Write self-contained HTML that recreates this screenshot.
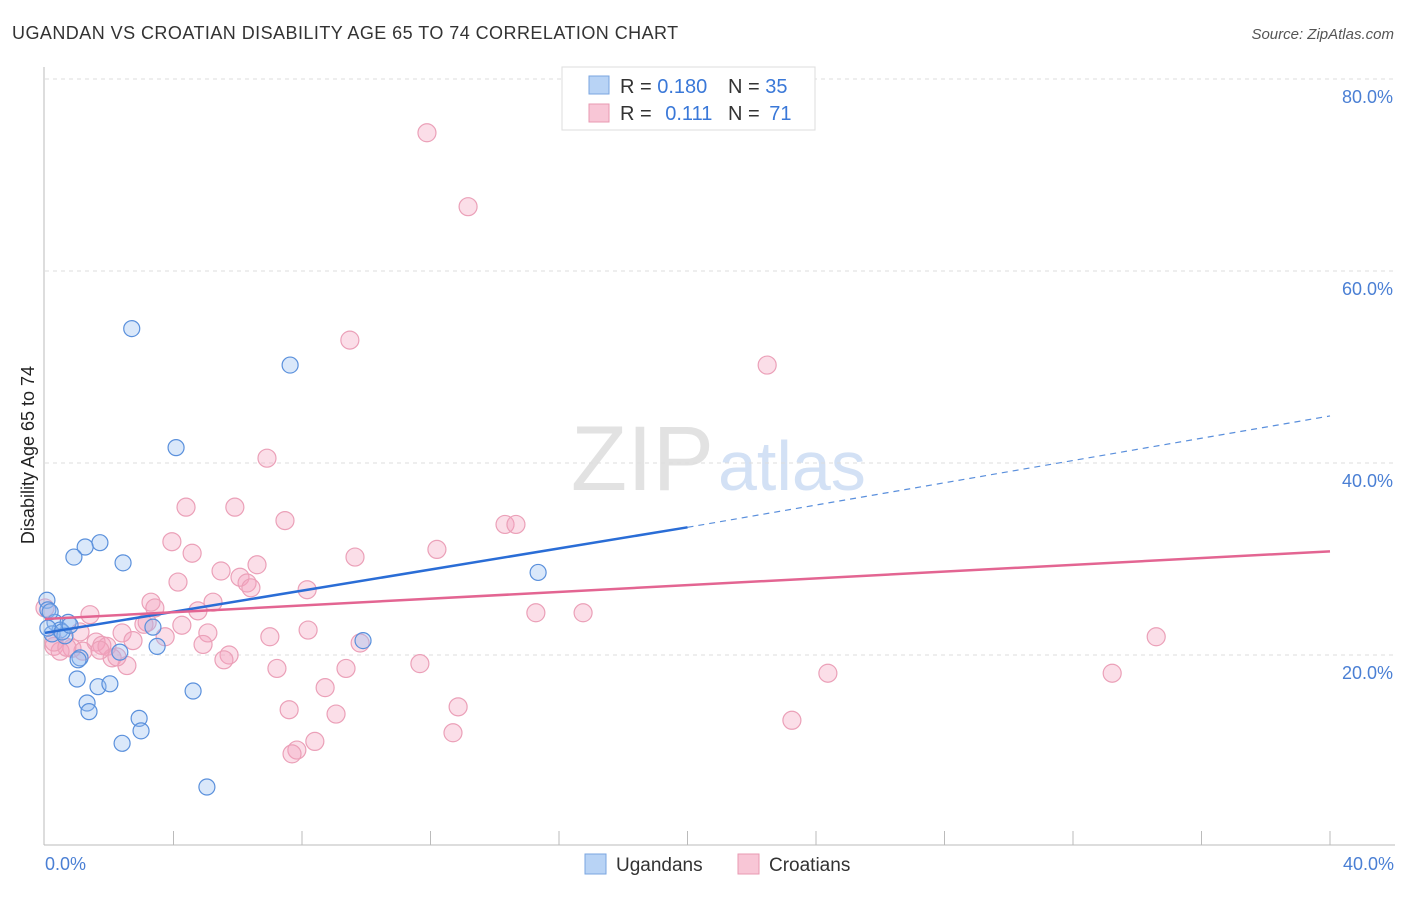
<!DOCTYPE html>
<html><head><meta charset="utf-8"><style>
body{margin:0;background:#fff;font-family:"Liberation Sans",sans-serif;}
svg text{font-family:"Liberation Sans",sans-serif;}
</style></head><body>
<svg id="chart" width="1406" height="892">
<text x="12" y="39" font-size="18" fill="#333" letter-spacing="0.45">UGANDAN VS CROATIAN DISABILITY AGE 65 TO 74 CORRELATION CHART</text>
<text x="1394" y="39" font-size="15" fill="#555" font-style="italic" text-anchor="end">Source: ZipAtlas.com</text>
<text x="714" y="490" font-size="92" fill="#e2e2e2" text-anchor="end" font-family="Liberation Serif">ZIP</text>
<text x="718" y="490" font-size="70" fill="#d3e1f5">atlas</text>
<text transform="translate(34,455) rotate(-90)" font-size="18" fill="#222" text-anchor="middle">Disability Age 65 to 74</text>
<g id="grid"></g><g id="axes"></g><g id="marks"></g>
<g>
<rect x="562" y="67" width="253" height="63" fill="#fff" stroke="#ddd"/>
<rect x="589" y="76" width="20" height="18" fill="#b8d3f5" stroke="#7aa6e0"/>
<rect x="589" y="104" width="20" height="18" fill="#f8c6d6" stroke="#e899b2"/>
<text x="620" y="93" font-size="20" fill="#333">R = <tspan fill="#3a78d8">0.180</tspan></text>
<text x="728" y="93" font-size="20" fill="#333">N = <tspan fill="#3a78d8">35</tspan></text>
<text x="620" y="120" font-size="20" fill="#333">R = <tspan fill="#3a78d8" dx="8">0.111</tspan></text>
<text x="728" y="120" font-size="20" fill="#333">N = <tspan fill="#3a78d8" dx="4">71</tspan></text>
</g>
<g>
<rect x="585" y="854" width="21" height="20" fill="#b8d3f5" stroke="#7aa6e0"/>
<text x="616" y="871" font-size="19" fill="#333">Ugandans</text>
<rect x="738" y="854" width="21" height="20" fill="#f8c6d6" stroke="#e899b2"/>
<text x="769" y="871" font-size="19" fill="#333">Croatians</text>
</g>
</svg>
<script>
const yTicks=[20,40,60,80];
const yTickLabels=["20.0%","40.0%","60.0%","80.0%"];
const xTickLabels=["0.0%","40.0%"];
const ugX=[2.7,7.63,4.08,1.71,1.25,0.9,2.43,15.35,0.06,0.09,0.31,0.72,0.47,0.22,0.62,3.36,3.49,9.9,2.33,1.09,1.03,1.0,1.65,2.02,4.61,1.31,1.37,2.93,2.99,2.4,5.04,0.09,0.53,0.78,0.16];
const ugY=[54.0,50.2,41.6,31.7,31.25,30.2,29.6,28.6,25.7,24.7,23.4,23.4,22.6,22.2,22.0,22.9,20.9,21.5,20.3,19.7,19.5,17.5,16.7,17.0,16.25,15.0,14.1,13.4,12.1,10.8,6.25,22.8,22.4,23.1,24.5];
const crX=[11.89,13.17,9.49,22.48,6.91,4.39,5.91,7.47,14.32,14.66,12.2,3.95,4.58,9.65,6.6,5.48,6.07,6.29,6.41,4.14,8.16,3.3,3.42,5.23,4.76,1.4,15.28,16.75,4.26,3.08,2.4,3.74,5.07,8.19,7.0,1.59,1.77,34.59,9.81,0.28,0.84,0.47,1.18,1.93,2.74,2.09,5.73,5.57,2.55,4.92,11.67,7.22,9.37,24.37,33.22,8.72,7.6,9.06,12.86,12.7,23.25,8.4,7.84,7.69,0.0,1.09,2.24,0.28,0.68,1.71,3.18];
const crY=[74.4,66.7,52.8,50.2,40.5,35.4,35.4,34.0,33.6,33.6,31.0,31.8,30.6,30.2,29.4,28.75,28.1,27.5,27.0,27.6,26.8,25.5,24.9,25.5,24.6,24.2,24.4,24.4,23.1,23.2,22.3,21.9,22.3,22.6,21.9,21.35,21.0,21.9,21.25,20.9,20.7,20.4,20.4,20.9,21.5,19.7,20.0,19.5,18.9,21.1,19.1,18.6,18.6,18.1,18.1,16.6,14.3,13.85,14.6,11.9,13.2,11.0,10.1,9.7,24.9,22.4,19.8,21.35,20.8,20.5,23.4];
const ugTrend=[22.3,33.3,44.9];
const crTrend=[23.75,30.8];

const NS="http://www.w3.org/2000/svg";
const X=v=>45+v/40*1285, Y=v=>847-v*9.6;
function mk(p,t,a){const e=document.createElementNS(NS,t);for(const k in a)e.setAttribute(k,a[k]);p.appendChild(e);return e;}
const grid=document.getElementById('grid'),axes=document.getElementById('axes'),marks=document.getElementById('marks');
yTicks.forEach((v,i)=>{
 const l=mk(grid,'line',{x1:45,x2:1395,y1:Y(v),y2:Y(v),stroke:'#ddd','stroke-dasharray':'4,4'});
 
 
 const t=mk(axes,'text',{x:1393,y:Y(v)+24,'font-size':18,fill:'#4a7fd4','text-anchor':'end'});t.textContent=yTickLabels[i];
 
 
});
const ax=mk(axes,'line',{x1:44,x2:44,y1:67,y2:845,stroke:'#bbb'});


const bx=mk(axes,'line',{x1:44,x2:1395,y1:845,y2:845,stroke:'#bbb'});


for(let i=1;i<=10;i++){const t=mk(axes,'line',{x1:X(i*4),x2:X(i*4),y1:831,y2:845,stroke:'#bbb'});
 
 }
const xl0=mk(axes,'text',{x:45,y:870,'font-size':18,fill:'#4a7fd4'});xl0.textContent=xTickLabels[0];


const xl1=mk(axes,'text',{x:1394,y:870,'font-size':18,fill:'#4a7fd4','text-anchor':'end'});xl1.textContent=xTickLabels[1];


crX.forEach((x,i)=>{const c=mk(marks,'circle',{cx:X(x),cy:Y(crY[i]),r:9,fill:'rgba(244,160,188,0.35)',stroke:'#eba0b8','stroke-width':1.2});
 
 });
ugX.forEach((x,i)=>{const c=mk(marks,'circle',{cx:X(x),cy:Y(ugY[i]),r:8,fill:'rgba(150,190,240,0.35)',stroke:'#5a90dc','stroke-width':1.2});
 
 });
const l1=mk(marks,'line',{x1:X(0),y1:Y(ugTrend[0]),x2:X(20),y2:Y(ugTrend[1]),stroke:'#2a6dd6','stroke-width':2.5});


const l2=mk(marks,'line',{x1:X(20),y1:Y(ugTrend[1]),x2:X(40),y2:Y(ugTrend[2]),stroke:'#5a8fdc','stroke-width':1.2,'stroke-dasharray':'6,5'});


const l3=mk(marks,'line',{x1:X(0),y1:Y(crTrend[0]),x2:X(40),y2:Y(crTrend[1]),stroke:'#e36592','stroke-width':2.5});


</script>
</body></html>
